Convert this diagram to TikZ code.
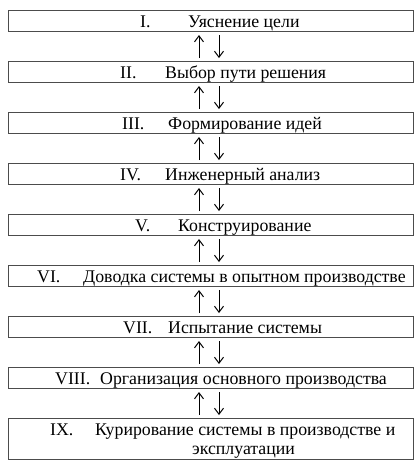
\documentclass[tikz,border=0pt]{standalone}
\usepackage{fontspec}
\setmainfont{Liberation Serif}
\usetikzlibrary{arrows.meta}
\begin{document}
\begin{tikzpicture}[x=1pt,y=-1pt,
  box/.style={draw=black!70, line width=1pt, minimum width=405pt, minimum height=21pt, inner sep=0pt, anchor=north west},
  lbl/.style={anchor=base west, inner sep=0pt, font=\fontsize{17.8}{19}\selectfont},
  arr/.style={line width=1pt, -{Straight Barb[length=6pt,width=9pt]}, shorten <=3pt, shorten >=3pt}]
\useasboundingbox (0,0) rectangle (419,467);
\coordinate (ux) at (199,0);
\coordinate (dx) at (219,0);
% boxes
\node[box] (b1) at (8,10) {};
\node[box] (b2) at (8,61) {};
\node[box] (b3) at (8,112) {};
\node[box] (b4) at (8,163) {};
\node[box] (b5) at (8,214) {};
\node[box] (b6) at (8,265) {};
\node[box] (b7) at (8,316) {};
\node[box] (b8) at (8,367) {};
\node[box, minimum height=41pt] (b9) at (8,418) {};
% labels
\node[lbl] (n1) at (140,27) {I.};
\node[lbl] (t1) at (188,27) {Уяснение цели};
\node[lbl] (n2) at (120,78) {II.};
\node[lbl] (t2) at (165,78) {Выбор пути решения};
\node[lbl] (n3) at (122,129) {III.};
\node[lbl] (t3) at (168,129) {Формирование идей};
\node[lbl] (n4) at (120,180) {IV.};
\node[lbl] (t4) at (165,180) {Инженерный анализ};
\node[lbl] (n5) at (135,231) {V.};
\node[lbl] (t5) at (178,231) {Конструирование};
\node[lbl] (n6) at (37,282) {VI.};
\node[lbl] (t6) at (83,282) {Доводка системы в опытном производстве};
\node[lbl] (n7) at (123,333) {VII.};
\node[lbl] (t7) at (168,333) {Испытание системы};
\node[lbl] (n8) at (55,384) {VIII.};
\node[lbl] (t8) at (100,384) {Организация основного производства};
\node[lbl] (n9) at (50,435) {IX.};
\node[lbl] (t9) at (95,435) {Курирование системы в производстве и};
\node[lbl] (t9b) at (192,454) {эксплуатации};
% arrows
\foreach \a/\b in {b1/b2,b2/b3,b3/b4,b4/b5,b5/b6,b6/b7,b7/b8,b8/b9}{
  \draw[arr] (\b.north -| ux) -- (\a.south -| ux);
  \draw[arr] (\a.south -| dx) -- (\b.north -| dx);
}
\end{tikzpicture}
\end{document}
